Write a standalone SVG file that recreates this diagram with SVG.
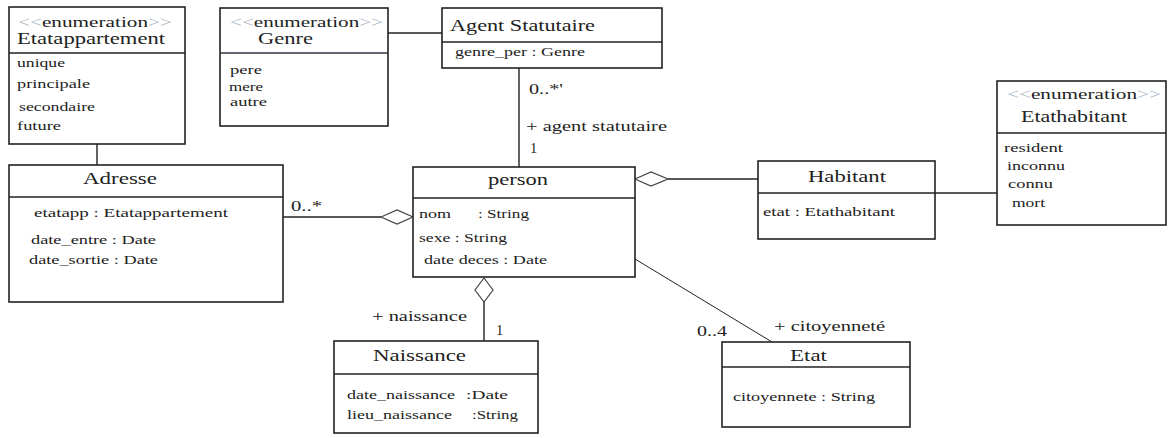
<svg xmlns="http://www.w3.org/2000/svg" width="1168" height="438" viewBox="0 0 1168 438">
<style>
text{font-family:"Liberation Serif","DejaVu Serif","Times New Roman",serif;fill:#222;}
.t{font-size:17px;}
.st{font-size:15px;}
.a{font-size:13.5px;}
.l{font-size:14.5px;}
.g{fill:#a8b4c4;}
.box{fill:#fff;stroke:#222;stroke-width:1.6;}
.div{stroke:#222;stroke-width:1.4;}
.c{stroke:#222;stroke-width:1.4;fill:none;}
.dia{fill:#fff;stroke:#444;stroke-width:1.2;}
</style>
<rect width="1168" height="438" fill="#fff"/>
<g id="connectors">
<line class="c" x1="97" y1="144" x2="97" y2="165"/>
<line class="c" x1="388" y1="33" x2="442" y2="33"/>
<line class="c" x1="519" y1="68" x2="519" y2="167"/>
<line class="c" x1="283" y1="217" x2="381" y2="217"/>
<polygon class="dia" points="381,217 397,210 413,217 397,224"/>
<line class="c" x1="668" y1="179" x2="758" y2="179"/>
<polygon class="dia" points="635,179 651,172 668,179 651,186"/>
<line class="c" x1="935" y1="193" x2="997" y2="193"/>
<line class="c" x1="484" y1="302" x2="484" y2="341"/>
<polygon class="dia" points="484,278 493,290 484,302 475,290"/>
<line class="c" x1="635" y1="259" x2="772" y2="342" style="stroke-width:1"/>
<text class="l" x="529" y="94" textLength="34" lengthAdjust="spacingAndGlyphs">0..*'</text>
<text class="l" x="526" y="131" textLength="141" lengthAdjust="spacingAndGlyphs">+ agent statutaire</text>
<text class="l" x="530" y="153">1</text>
<text class="l" x="291" y="211" textLength="31" lengthAdjust="spacingAndGlyphs">0..*</text>
<text class="l" x="372" y="321" textLength="95" lengthAdjust="spacingAndGlyphs">+ naissance</text>
<text class="l" x="496" y="335">1</text>
<text class="l" x="697" y="336" textLength="30" lengthAdjust="spacingAndGlyphs">0..4</text>
<text class="l" x="774" y="331" textLength="111" lengthAdjust="spacingAndGlyphs">+ citoyenneté</text>
</g>
<g id="Etatappartement">
<rect class="box" x="9" y="7" width="176" height="137"/>
<line class="div" x1="9" y1="53" x2="185" y2="53"/>
<text class="st" x="18" y="27" textLength="154" lengthAdjust="spacingAndGlyphs"><tspan class="g">&lt;&lt;</tspan>enumeration<tspan class="g">&gt;&gt;</tspan></text>
<text class="t" x="17" y="44" textLength="148" lengthAdjust="spacingAndGlyphs">Etatappartement</text>
<text class="a" x="17" y="67" textLength="48" lengthAdjust="spacingAndGlyphs">unique</text>
<text class="a" x="17" y="88" textLength="73" lengthAdjust="spacingAndGlyphs">principale</text>
<text class="a" x="19" y="111" textLength="76" lengthAdjust="spacingAndGlyphs">secondaire</text>
<text class="a" x="17" y="130" textLength="44" lengthAdjust="spacingAndGlyphs">future</text>
</g>
<g id="Genre">
<rect class="box" x="220" y="8" width="168" height="118"/>
<line class="div" x1="220" y1="53" x2="388" y2="53" style="stroke:#334"/>
<text class="st" x="230" y="27" textLength="153" lengthAdjust="spacingAndGlyphs"><tspan class="g">&lt;&lt;</tspan>enumeration<tspan class="g">&gt;&gt;</tspan></text>
<text class="t" x="258" y="44" textLength="55" lengthAdjust="spacingAndGlyphs">Genre</text>
<text class="a" x="230" y="74" textLength="32" lengthAdjust="spacingAndGlyphs">pere</text>
<text class="a" x="229" y="91" textLength="34" lengthAdjust="spacingAndGlyphs">mere</text>
<text class="a" x="230" y="106" textLength="37" lengthAdjust="spacingAndGlyphs">autre</text>
</g>
<g id="AgentStatutaire">
<rect class="box" x="442" y="8" width="220" height="60"/>
<line class="div" x1="442" y1="42" x2="662" y2="42"/>
<text class="t" x="450" y="31" textLength="145" lengthAdjust="spacingAndGlyphs">Agent Statutaire</text>
<text class="a" x="455" y="56" textLength="130" lengthAdjust="spacingAndGlyphs">genre_per : Genre</text>
</g>
<g id="Etathabitant">
<rect class="box" x="997" y="81" width="169" height="144"/>
<line class="div" x1="997" y1="133" x2="1166" y2="133"/>
<text class="st" x="1007" y="99" textLength="154" lengthAdjust="spacingAndGlyphs"><tspan class="g">&lt;&lt;</tspan>enumeration<tspan class="g">&gt;&gt;</tspan></text>
<text class="t" x="1021" y="122" textLength="106" lengthAdjust="spacingAndGlyphs">Etathabitant</text>
<text class="a" x="1004" y="152" textLength="59" lengthAdjust="spacingAndGlyphs">resident</text>
<text class="a" x="1007" y="170" textLength="58" lengthAdjust="spacingAndGlyphs">inconnu</text>
<text class="a" x="1008" y="188" textLength="45" lengthAdjust="spacingAndGlyphs">connu</text>
<text class="a" x="1012" y="207" textLength="33" lengthAdjust="spacingAndGlyphs">mort</text>
</g>
<g id="Adresse">
<rect class="box" x="9" y="165" width="274" height="137"/>
<line class="div" x1="9" y1="197" x2="283" y2="197"/>
<text class="t" x="83" y="184" textLength="74" lengthAdjust="spacingAndGlyphs">Adresse</text>
<text class="a" x="34" y="217" textLength="194" lengthAdjust="spacingAndGlyphs">etatapp : Etatappartement</text>
<text class="a" x="31" y="244" textLength="125" lengthAdjust="spacingAndGlyphs">date_entre : Date</text>
<text class="a" x="29" y="264" textLength="129" lengthAdjust="spacingAndGlyphs">date_sortie : Date</text>
</g>
<g id="person">
<rect class="box" x="413" y="167" width="222" height="110"/>
<line class="div" x1="413" y1="198" x2="635" y2="198"/>
<text class="t" x="488" y="185" textLength="60" lengthAdjust="spacingAndGlyphs">person</text>
<text class="a" x="419" y="218" textLength="32" lengthAdjust="spacingAndGlyphs">nom</text>
<text class="a" x="478" y="218" textLength="51" lengthAdjust="spacingAndGlyphs">: String</text>
<text class="a" x="419" y="242" textLength="88" lengthAdjust="spacingAndGlyphs">sexe : String</text>
<text class="a" x="424" y="264" textLength="123" lengthAdjust="spacingAndGlyphs">date deces : Date</text>
</g>
<g id="Habitant">
<rect class="box" x="758" y="161" width="177" height="78"/>
<line class="div" x1="758" y1="193" x2="935" y2="193"/>
<text class="t" x="808" y="182" textLength="78" lengthAdjust="spacingAndGlyphs">Habitant</text>
<text class="a" x="763" y="216" textLength="132" lengthAdjust="spacingAndGlyphs">etat : Etathabitant</text>
</g>
<g id="Naissance">
<rect class="box" x="334" y="341" width="204" height="92"/>
<line class="div" x1="334" y1="374" x2="538" y2="374"/>
<text class="t" x="373" y="361" textLength="93" lengthAdjust="spacingAndGlyphs">Naissance</text>
<text class="a" x="347" y="399" textLength="108" lengthAdjust="spacingAndGlyphs">date_naissance</text>
<text class="a" x="466" y="399" textLength="42" lengthAdjust="spacingAndGlyphs">:Date</text>
<text class="a" x="347" y="419" textLength="105" lengthAdjust="spacingAndGlyphs">lieu_naissance</text>
<text class="a" x="472" y="419" textLength="46" lengthAdjust="spacingAndGlyphs">:String</text>
</g>
<g id="Etat">
<rect class="box" x="722" y="342" width="188" height="85"/>
<line class="div" x1="722" y1="367" x2="910" y2="367"/>
<text class="t" x="790" y="361" textLength="37" lengthAdjust="spacingAndGlyphs">Etat</text>
<text class="a" x="733" y="401" textLength="142" lengthAdjust="spacingAndGlyphs">citoyennete : String</text>
</g>
</svg>
